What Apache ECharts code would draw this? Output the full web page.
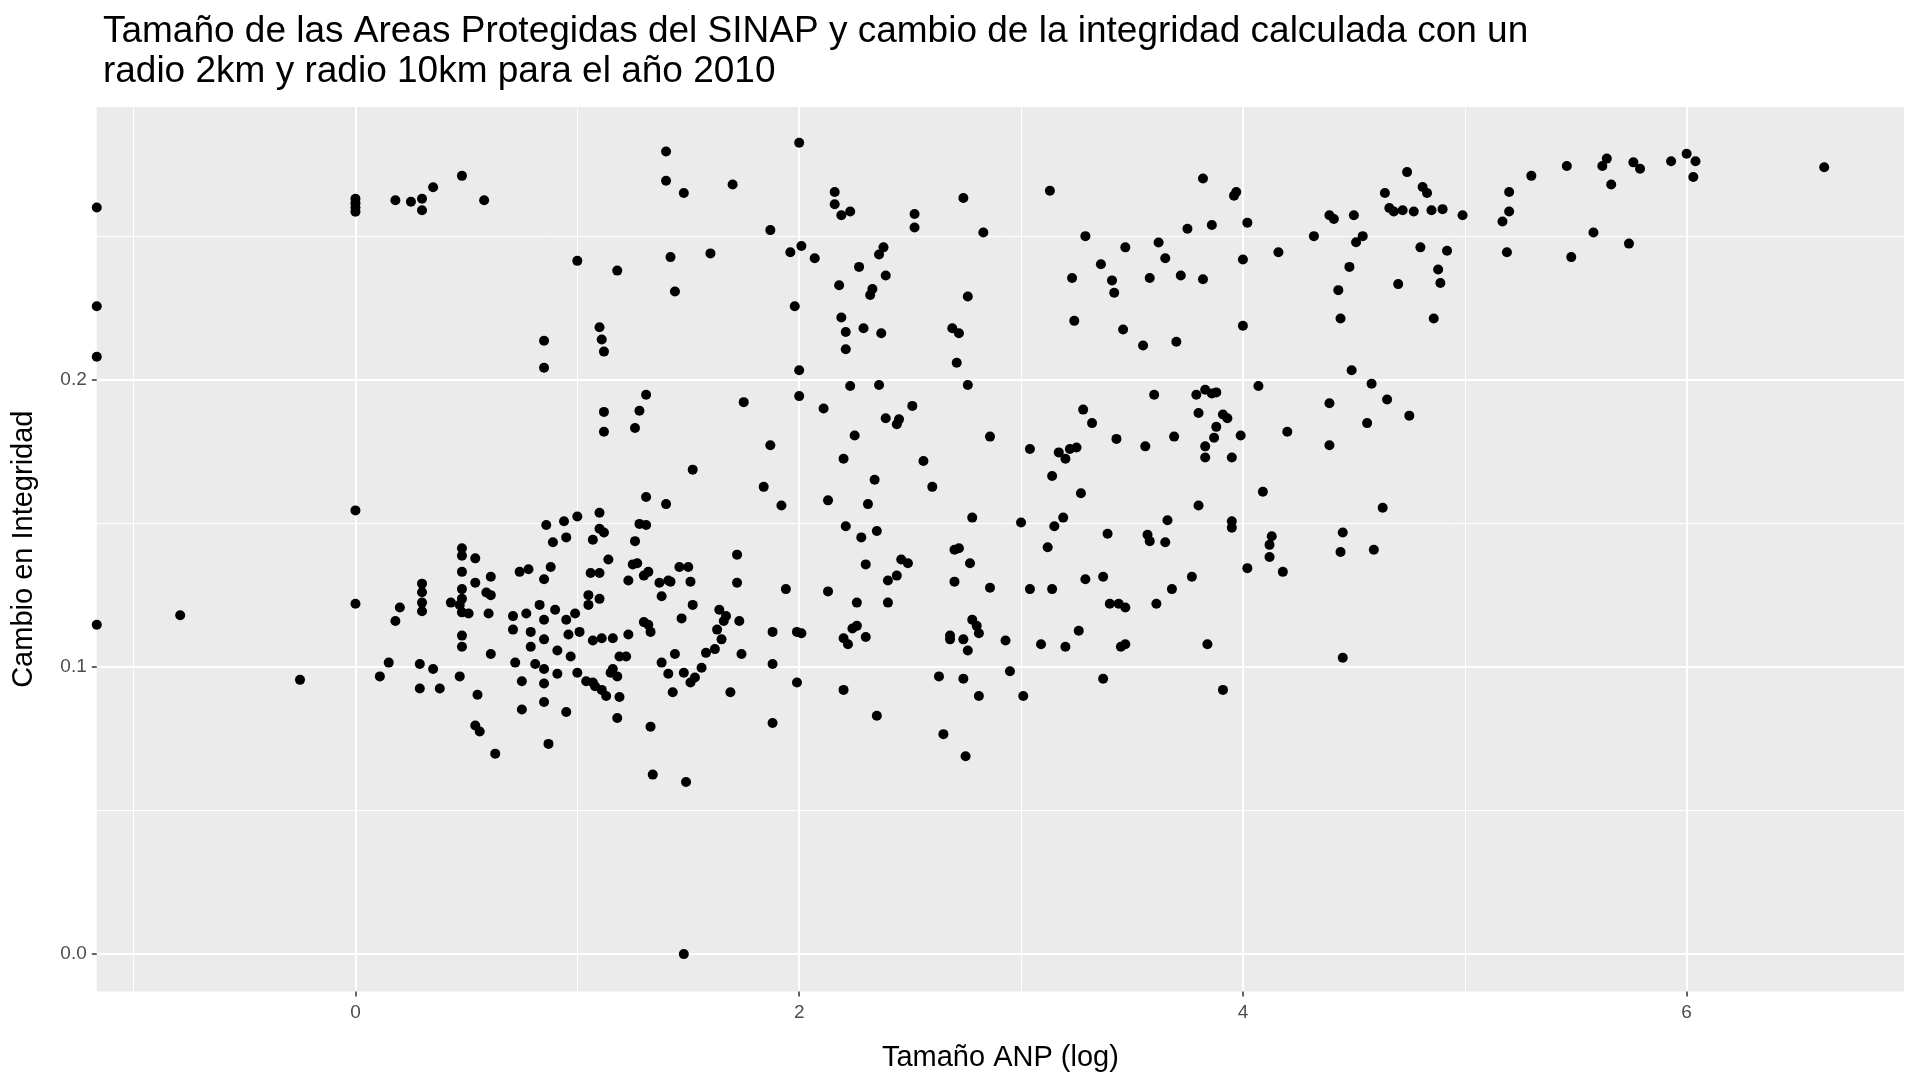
<!DOCTYPE html>
<html><head><meta charset="utf-8">
<script src="https://cdn.jsdelivr.net/npm/echarts@6/dist/echarts.min.js"></script>
<style>html,body{margin:0;padding:0;background:#fff}#c{width:1920px;height:1080px}</style>
</head><body><div id="c"></div>
<script>
const titleText = "Tamaño de las Areas Protegidas del SINAP y cambio de la integridad calculada con un\nradio 2km y radio 10km para el año 2010";
const xTicks = [0, 2, 4, 6];
const yTicks = [0.0, 0.1, 0.2];
const xMinor = [-1, 1, 3, 5];
const yMinor = [0.05, 0.15, 0.25];
const points = [
[-1.166,0.26],[-1.166,0.2256],[-1.166,0.208],[-1.166,0.1147],[-0.79,0.118],[-0.25,0.0955],
[0,0.263],[0,0.2615],[0,0.26],[0,0.2585],[0,0.1545],[0,0.122],
[0.18,0.2625],[0.25,0.262],[0.30,0.263],[0.30,0.259],[0.35,0.267],[0.48,0.271],[0.58,0.2625],
[0.11,0.0967],[0.15,0.1015],[0.18,0.116],[0.2,0.1207],[0.29,0.101],[0.29,0.0925],[0.3,0.129],[0.3,0.126],[0.3,0.1224],[0.3,0.1194],[0.35,0.0993],[0.38,0.0925],[0.43,0.1224],[0.47,0.1216],[0.48,0.1413],[0.48,0.1387],[0.48,0.1331],[0.48,0.1271],[0.48,0.1237],[0.48,0.119],[0.48,0.1109],[0.48,0.107],[0.47,0.0967],[0.51,0.1186],[0.54,0.1293],[0.54,0.1378],[0.55,0.0903],[0.54,0.0796],[0.56,0.0775],[0.59,0.1259],[0.6,0.1186],[0.61,0.125],[0.61,0.1314],[0.61,0.1045],[0.63,0.0698],[0.71,0.1177],[0.71,0.113],[0.72,0.1015],[0.74,0.1331],[0.75,0.0852],[0.75,0.095],[0.77,0.1186],[0.78,0.134],[0.79,0.1122],[0.79,0.107],[0.81,0.101],[0.83,0.1216],[0.85,0.1305],[0.85,0.1164],[0.85,0.1096],[0.85,0.0993],[0.85,0.0942],[0.85,0.0878],[0.86,0.1494],[0.87,0.0732],[0.88,0.1348],[0.89,0.1434],[0.9,0.1199],[0.91,0.1057],[0.91,0.0976],[0.94,0.1507],[0.95,0.1164],[0.95,0.1451],[0.95,0.0843],[0.96,0.1113],[0.97,0.1036],[0.99,0.1186],[1.0,0.1524],[1.0,0.098],[1.01,0.1122],[1.04,0.095],[1.05,0.125],[1.05,0.1216],[1.06,0.1327],[1.07,0.1443],[1.07,0.1092],[1.07,0.0946],[1.08,0.0933],[1.1,0.1537],[1.1,0.1327],[1.1,0.1481],[1.1,0.1237],[1.11,0.11],[1.11,0.092],[1.12,0.1468],[1.13,0.0899],[1.14,0.1374],[1.15,0.098],[1.16,0.11],[1.16,0.0993],[1.18,0.0822],[1.18,0.0967],[1.19,0.0895],[1.19,0.1036],[1.22,0.1036],[1.23,0.1113],[1.23,0.1301],[1.25,0.1357],[1.26,0.1438],[1.27,0.1361],[1.28,0.1498],[1.3,0.1318],[1.3,0.1156],[1.31,0.1494],[1.31,0.1592],[1.32,0.1331],[1.32,0.1147],[1.33,0.0792],[1.33,0.1122],[1.34,0.0625],[1.37,0.1293],[1.38,0.1015],[1.38,0.1246],[1.4,0.1567],[1.41,0.1301],[1.41,0.0976],[1.42,0.1297],[1.43,0.0912],[1.44,0.1045],[1.46,0.1348],[1.47,0.1169],[1.48,0.098],[1.49,0.0599],[1.5,0.1348],[1.51,0.1297],[1.51,0.0946],[1.52,0.1216],[1.53,0.0963],[1.56,0.0997],[1.58,0.1049],[1.62,0.1062],[1.63,0.113],[1.64,0.1199],[1.65,0.1096],[1.66,0.116],[1.67,0.1177],[1.69,0.0912],[1.72,0.1391],[1.72,0.1293],[1.73,0.116],[1.74,0.1045],[1.48,0.0],
[0.85,0.2136],[0.85,0.2042],[1.0,0.2414],[1.1,0.2183],[1.11,0.214],[1.12,0.2098],[1.12,0.1888],[1.12,0.1819],[1.18,0.238],[1.26,0.1832],[1.28,0.1892],[1.31,0.1948],[1.4,0.2795],[1.4,0.2693],[1.42,0.2427],[1.44,0.2307],[1.48,0.265],[1.52,0.1687],[1.6,0.244],[1.7,0.268],[1.75,0.1922],
[1.84,0.1627],[1.87,0.2521],[1.87,0.1772],[1.88,0.1122],[1.88,0.101],[1.88,0.0805],[1.92,0.1562],[1.94,0.1271],[1.96,0.2444],[1.98,0.2256],[1.99,0.1122],[1.99,0.0946],[2.0,0.2825],[2.0,0.2033],[2.0,0.1943],[2.01,0.2466],[2.01,0.1117],[2.07,0.2423],[2.11,0.19],[2.13,0.158],[2.13,0.1263],[2.16,0.2654],[2.16,0.2611],[2.18,0.2329],[2.19,0.2573],[2.19,0.2217],[2.2,0.1725],[2.2,0.11],[2.2,0.092],[2.21,0.2106],[2.21,0.149],[2.21,0.2166],[2.22,0.1079],[2.23,0.2586],[2.23,0.1978],[2.24,0.1134],[2.25,0.1806],[2.26,0.1143],[2.26,0.1224],[2.27,0.2393],[2.28,0.1451],[2.29,0.2179],[2.3,0.1357],[2.3,0.1104],[2.31,0.1567],[2.32,0.2295],[2.33,0.2316],[2.34,0.1652],[2.35,0.1473],[2.35,0.083],[2.36,0.2436],[2.36,0.1982],[2.37,0.2162],[2.38,0.2461],[2.39,0.2363],[2.39,0.1866],[2.4,0.1301],[2.4,0.1224],[2.44,0.1318],[2.44,0.1845],[2.45,0.1862],[2.46,0.1374],[2.49,0.1361],[2.51,0.1909],[2.52,0.253],[2.52,0.2577],[2.56,0.1717],[2.6,0.1627],[2.63,0.0967],[2.65,0.0766],[2.68,0.1109],[2.68,0.1096],[2.69,0.2179],[2.7,0.1408],[2.7,0.1297],[2.71,0.2059],[2.72,0.2162],[2.72,0.1413],[2.74,0.0959],[2.74,0.2633],[2.74,0.1096],[2.75,0.0689],[2.76,0.1057],[2.76,0.229],[2.76,0.1982],[2.77,0.1361],[2.78,0.1164],[2.78,0.152],[2.8,0.1143],[2.81,0.1117],[2.81,0.0899],[2.83,0.2513],[2.86,0.1802],[2.86,0.1276],[2.93,0.1092],[2.95,0.0985],
[3.0,0.1503],[3.01,0.0899],[3.04,0.1759],[3.04,0.1271],[3.09,0.1079],[3.12,0.1417],[3.13,0.2658],[3.14,0.1665],[3.14,0.1271],[3.15,0.149],[3.17,0.1747],[3.19,0.152],[3.2,0.1725],[3.2,0.107],[3.22,0.1759],[3.23,0.2354],[3.24,0.2205],[3.25,0.1764],[3.26,0.1126],[3.27,0.1605],[3.28,0.1896],[3.29,0.1305],[3.29,0.25],[3.32,0.1849],[3.36,0.2402],[3.37,0.1314],[3.37,0.0959],[3.39,0.1464],[3.4,0.122],[3.41,0.2346],[3.42,0.2303],[3.43,0.1794],[3.44,0.122],[3.45,0.107],[3.46,0.2175],[3.47,0.1207],[3.47,0.2461],[3.47,0.1079],[3.55,0.2119],[3.56,0.1768],[3.57,0.146],[3.58,0.1438],[3.58,0.2354],[3.6,0.1948],[3.61,0.122],[3.62,0.2478],[3.65,0.2423],[3.65,0.1434],[3.66,0.1511],[3.68,0.1271],[3.69,0.1802],[3.7,0.2132],[3.72,0.2363],[3.75,0.2526],[3.77,0.1314],[3.79,0.1948],[3.8,0.1884],[3.8,0.1562],[3.82,0.235],[3.82,0.2701],[3.83,0.1768],[3.83,0.1729],[3.83,0.1965],[3.84,0.1079],[3.86,0.1952],[3.86,0.2539],[3.87,0.1798],[3.88,0.1956],[3.88,0.1836],[3.91,0.1879],[3.91,0.092],[3.93,0.1866],[3.95,0.1729],[3.95,0.1507],[3.95,0.1485],[3.96,0.2641],[3.97,0.2654],[3.99,0.1806],[4.0,0.2419],[4.0,0.2188],[4.02,0.2547],[4.02,0.1344],
[4.07,0.1978],[4.09,0.161],[4.12,0.1383],[4.12,0.1425],[4.13,0.1455],[4.16,0.2444],[4.18,0.1331],[4.2,0.1819],[4.32,0.25],[4.39,0.1772],[4.39,0.1918],[4.39,0.2573],[4.41,0.256],[4.43,0.2312],[4.44,0.2213],[4.44,0.14],[4.45,0.1468],[4.45,0.1032],[4.48,0.2393],[4.49,0.2033],[4.5,0.2573],[4.51,0.2479],[4.54,0.25],[4.56,0.1849],[4.58,0.1986],[4.59,0.1408],[4.63,0.1554],[4.64,0.265],[4.65,0.1931],[4.66,0.2598],[4.68,0.2586],[4.7,0.2333],[4.72,0.259],[4.74,0.2723],[4.75,0.1875],[4.77,0.2586],[4.8,0.2461],[4.81,0.2671],[4.83,0.265],[4.85,0.259],[4.86,0.2213],[4.88,0.2384],[4.89,0.2337],[4.9,0.2594],[4.92,0.2449],[4.99,0.2573],[5.17,0.2551],[5.2,0.2654],[5.2,0.2586],[5.19,0.2444],[5.3,0.271],[5.46,0.2744],[5.48,0.2427],[5.58,0.2513],[5.62,0.2744],[5.64,0.277],[5.66,0.268],[5.74,0.2474],[5.76,0.2757],[5.79,0.2735],[5.93,0.2761],[6.0,0.2787],[6.03,0.2706],[6.04,0.2761],[6.62,0.274]
];

const chart = echarts.init(document.getElementById('c'));
const ml = (arr, key, w) => arr.map(v => ({[key]: v, lineStyle: {color: '#fff', width: w, type: 'solid'}}));
chart.setOption({
  backgroundColor: '#fff',
  animation: false,
  title: {text: titleText, left: '5.1%', top: '0.6%', textStyle: {fontFamily: 'Liberation Sans', fontSize: 37, fontWeight: 'normal', color: '#000', lineHeight: 40}},
  grid: {left: '5.04%', right: '0.83%', top: '9.9%', bottom: '8.2%', show: true, backgroundColor: '#EBEBEB', borderWidth: 0},
  xAxis: {type: 'value', min: -1.166, max: 6.98, name: 'Tamaño ANP (log)', nameLocation: 'middle', nameGap: 52,
    nameTextStyle: {fontFamily: 'Liberation Sans', fontSize: 29, color: '#000'},
    axisLine: {show: false, onZero: false}, splitLine: {show: false},
    axisTick: {show: true, customValues: xTicks, length: 5, lineStyle: {color: '#333', width: 1.5}},
    axisLabel: {customValues: xTicks, color: '#4D4D4D', fontSize: 19, fontFamily: 'Liberation Sans', margin: 12, formatter: v => String(v)}},
  yAxis: {type: 'value', min: -0.013, max: 0.295, name: 'Cambio en Integridad', nameLocation: 'middle', nameGap: 58,
    nameTextStyle: {fontFamily: 'Liberation Sans', fontSize: 29, color: '#000'},
    axisLine: {show: false, onZero: false}, splitLine: {show: false},
    axisTick: {show: true, customValues: yTicks, length: 5, lineStyle: {color: '#333', width: 1.5}},
    axisLabel: {customValues: yTicks, color: '#4D4D4D', fontSize: 19, fontFamily: 'Liberation Sans', margin: 10, formatter: v => v.toFixed(1)}},
  series: [{
    type: 'scatter', data: points, symbolSize: 10, itemStyle: {color: '#000', opacity: 1},
    markLine: {silent: true, symbol: 'none', label: {show: false}, animation: false, z: 0,
      data: [...ml(xMinor, 'xAxis', 1), ...ml(yMinor, 'yAxis', 1), ...ml(xTicks, 'xAxis', 2), ...ml(yTicks, 'yAxis', 2)]}
  }]
});
</script></body></html>
